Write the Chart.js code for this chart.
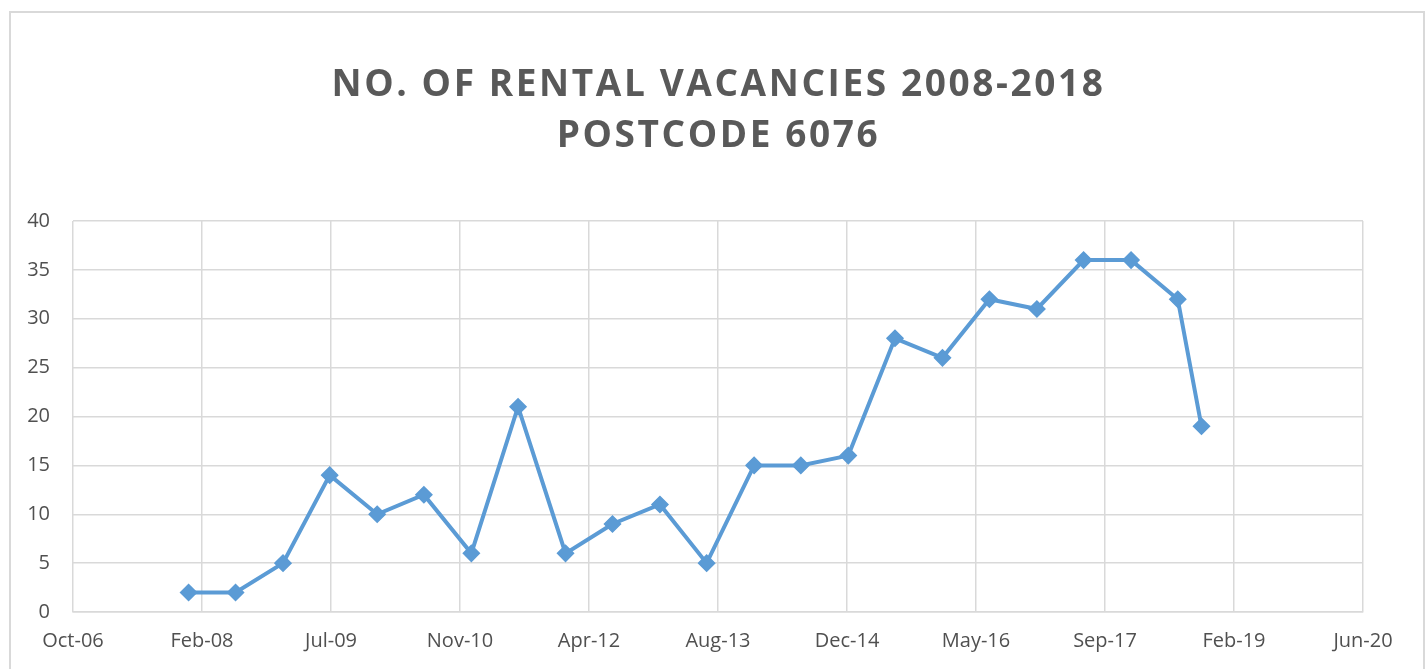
<!DOCTYPE html>
<html>
<head>
<meta charset="utf-8">
<script src="https://cdn.jsdelivr.net/npm/chart.js@4"></script>
<style>
  html, body { margin: 0; padding: 0; background: #fff; overflow: hidden; }
  #frame {
    position: absolute; left: 9px; top: 11px;
    width: 1412px; height: 700px;
    border: 2px solid #d9d9d9;
  }
  #wrap { position: relative; width: 1412px; height: 656px; }
</style>
</head>
<body>
<div id="frame"><div id="wrap"><canvas id="lineChart"></canvas></div></div>
<script>
// Survey dates (half-yearly) and number of rental vacancies
const surveyDates = [
  '2008-01-01', '2008-07-01', '2009-01-01', '2009-07-01', '2010-01-01', '2010-07-01',
  '2011-01-01', '2011-07-01', '2012-01-01', '2012-07-01', '2013-01-01', '2013-07-01',
  '2014-01-01', '2014-07-01', '2015-01-01', '2015-07-01', '2016-01-01', '2016-07-01',
  '2017-01-01', '2017-07-01', '2018-01-01', '2018-07-01', '2018-10-01'
];
const vacancies = [2, 2, 5, 14, 10, 12, 6, 21, 6, 9, 11, 5, 15, 15, 16, 28, 26, 32, 31, 36, 36, 32, 19];

const titleLines = ['NO. OF RENTAL VACANCIES 2008-2018', 'POSTCODE 6076'];
const monthNames = ['Jan', 'Feb', 'Mar', 'Apr', 'May', 'Jun', 'Jul', 'Aug', 'Sep', 'Oct', 'Nov', 'Dec'];

// Excel style date axis (serial day numbers), 500 day major unit
const xMin = 39000, xMax = 44000, xStep = 500;

function toSerial(s) {
  const [y, m, d] = s.split('-').map(Number);
  return Date.UTC(y, m - 1, d) / 86400000 + 25569;
}
function serialLabel(v) {
  const dt = new Date((v - 25569) * 86400000);
  return monthNames[dt.getUTCMonth()] + '-' + String(dt.getUTCFullYear()).slice(2);
}

const points = surveyDates.map((d, i) => ({ x: toSerial(d), y: vacancies[i] }));

// Title drawn with letter spacing like the spreadsheet chart
const spacedTitle = {
  id: 'spacedTitle',
  afterDraw(chart) {
    const ctx = chart.ctx;
    ctx.save();
    ctx.font = "bold 37px 'Open Sans', sans-serif";
    ctx.fillStyle = '#595959';
    ctx.textAlign = 'center';
    ctx.textBaseline = 'middle';
    if ('letterSpacing' in ctx) ctx.letterSpacing = '2.6px';
    const cx = chart.width / 2;
    titleLines.forEach((t, i) => ctx.fillText(t, cx + 1.5, 72 + i * 51));
    ctx.restore();
  }
};

const gridColor = '#d9d9d9';
const textColor = '#595959';

new Chart(document.getElementById('lineChart').getContext('2d'), {
  type: 'line',
  data: {
    datasets: [{
      data: points,
      borderColor: '#5b9bd5',
      backgroundColor: '#5b9bd5',
      borderWidth: 4,
      pointStyle: 'rectRot',
      pointRadius: 8,
      pointBorderWidth: 1.5,
      pointBackgroundColor: '#5b9bd5',
      pointBorderColor: '#5b9bd5',
      tension: 0
    }]
  },
  options: {
    responsive: true,
    maintainAspectRatio: false,
    animation: false,
    layout: { padding: { top: 208, right: 60, left: 0, bottom: 0 } },
    plugins: { legend: { display: false }, title: { display: false }, tooltip: { enabled: false } },
    scales: {
      x: {
        type: 'linear',
        min: xMin, max: xMax,
        afterBuildTicks: (s) => {
          const t = [];
          for (let v = xMin; v <= xMax; v += xStep) t.push({ value: v });
          s.ticks = t;
        },
        afterFit: (s) => { s.height = 57; },
        grid: { color: gridColor, lineWidth: 1.5, drawTicks: false },
        border: { color: gridColor, width: 1.5 },
        ticks: {
          color: '#505050', padding: 17, maxRotation: 0,
          font: { family: "'Open Sans', sans-serif", size: 20 },
          callback: (v) => serialLabel(v)
        }
      },
      y: {
        min: 0, max: 40,
        afterFit: (s) => { s.width = 62; },
        grid: { color: gridColor, lineWidth: 1.5, drawTicks: false },
        border: { display: false },
        ticks: {
          stepSize: 5, color: '#505050', padding: 23,
          font: { family: "'Open Sans', sans-serif", size: 20 }
        }
      }
    }
  },
  plugins: [spacedTitle]
});
</script>
</body>
</html>
